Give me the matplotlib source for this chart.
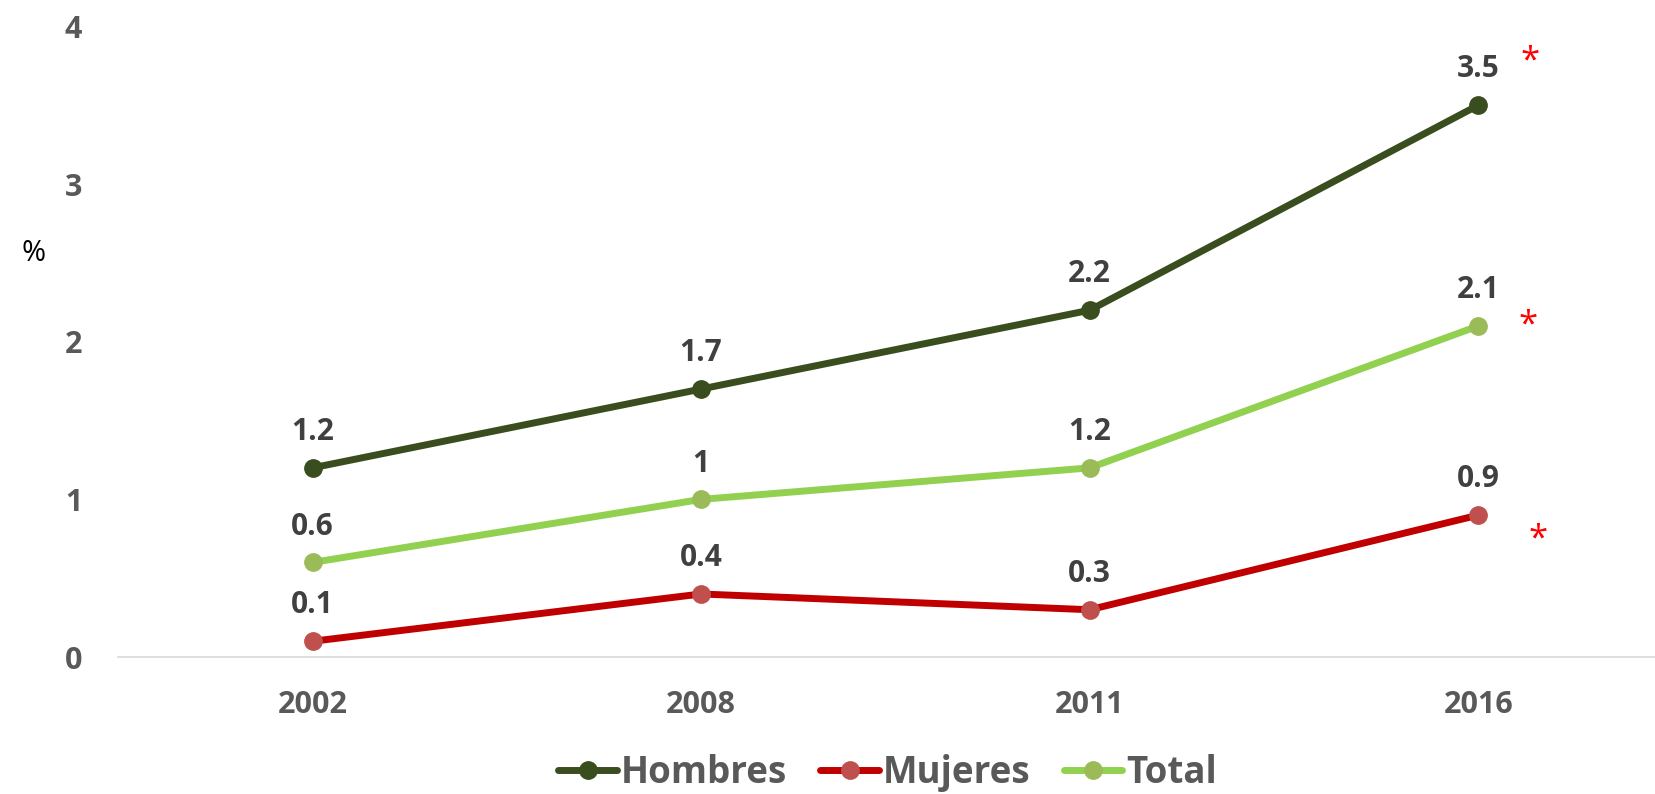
import matplotlib.pyplot as plt

years = ['2002', '2008', '2011', '2016']
hombres = [1.2, 1.7, 2.2, 3.5]
mujeres = [0.1, 0.4, 0.3, 0.9]
total = [0.6, 1.0, 1.2, 2.1]

def lbl(v):
    return ('%g' % v)

plt.rcParams['font.family'] = ['Open Sans', 'DejaVu Sans']

fig = plt.figure(figsize=(16.56, 7.94), dpi=100)
ax = fig.add_axes([0.0714, 0.1725, 0.9386, 0.7942])

x = list(range(len(years)))
series = [
    ('Hombres', hombres, '#3A4D1E', '#3A4D1E'),
    ('Mujeres', mujeres, '#C00000', '#C0504D'),
    ('Total', total, '#92D050', '#9BBB59'),
]
for name, vals, lc, mc in series:
    ax.plot(x, vals, color=lc, lw=5, marker='o', ms=12.5,
            mfc=mc, mec=mc, label=name, solid_capstyle='round', clip_on=False)
    for xi, v in zip(x, vals):
        ax.annotate(lbl(v), (xi, v), xytext=(0, 20), textcoords='offset points',
                    ha='center', va='baseline', fontsize=21.5, fontweight='bold',
                    color='#404040')

# significance marks at 2016
ax.annotate('*', (3, hombres[3]), xytext=(37, 25), textcoords='offset points',
            ha='center', va='baseline', color='red', fontsize=25)
ax.annotate('*', (3, total[3]), xytext=(35.6, -6.5), textcoords='offset points',
            ha='center', va='baseline', color='red', fontsize=25)
ax.annotate('*', (3, mujeres[3]), xytext=(43, -24), textcoords='offset points',
            ha='center', va='baseline', color='red', fontsize=25)

ax.set_xlim(-0.5, 3.5)
ax.set_ylim(0, 4)
ax.set_xticks(x)
ax.set_xticklabels(years)
ax.set_yticks([0, 1, 2, 3, 4])
for s in ['top', 'right', 'left']:
    ax.spines[s].set_visible(False)
ax.spines['bottom'].set_color('#D9D9D9')
ax.spines['bottom'].set_linewidth(1.2)
ax.tick_params(axis='both', length=0, labelsize=22, labelcolor='#595959')
ax.tick_params(axis='x', pad=24)
ax.tick_params(axis='y', pad=26)
for t in ax.get_xticklabels() + ax.get_yticklabels():
    t.set_fontweight('bold')

fig.text(0.013, 0.681, '%', fontsize=21, color='black', ha='left', va='center')

leg = fig.legend(loc='center', bbox_to_anchor=(0.536, 0.027), ncol=3, frameon=False,
                 prop={'size': 26.5, 'weight': 'bold'}, handlelength=1.6,
                 handletextpad=0.1, columnspacing=0.9)
for t in leg.get_texts():
    t.set_color('#595959')

fig.savefig('out.png', dpi=100)
